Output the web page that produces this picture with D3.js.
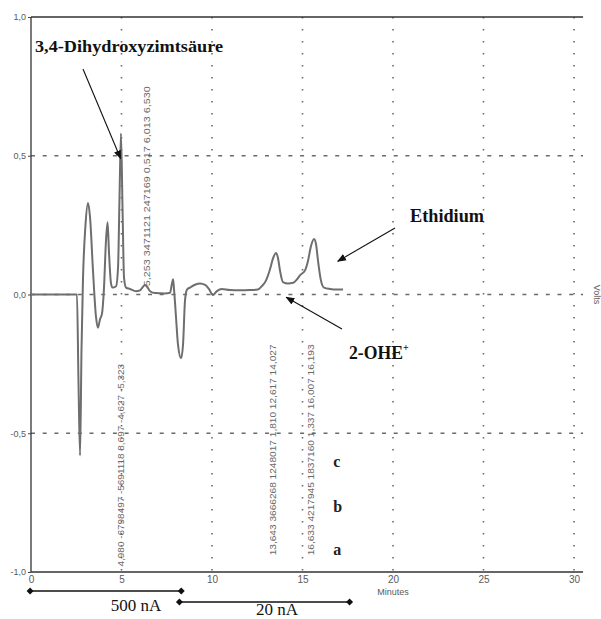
<!DOCTYPE html>
<html>
<head>
<meta charset="utf-8">
<script src="https://cdn.jsdelivr.net/npm/d3@7"></script>
<style>
  html, body { margin: 0; padding: 0; background: #fff; }
  svg { display: block; }
</style>
</head>
<body>
<svg id="chart" width="601" height="619"></svg>
<script>
// Chromatogram trace: retention time (min) and detector signal (V)
const traceTime = [0, 2.54, 2.62, 2.71, 2.79, 2.87, 3.01, 3.15, 3.26, 3.43, 3.59, 3.70, 3.81, 3.92, 4.03, 4.14, 4.23,
  4.31, 4.42, 4.50, 4.70, 4.81, 4.89, 4.97, 5.06, 5.14, 5.25, 5.47, 5.80, 6.02, 6.19, 6.30, 6.41, 6.58, 6.85, 7.40,
  7.68, 7.79, 7.85, 7.90, 8.01, 8.12, 8.29, 8.40, 8.51, 8.62, 8.79, 9.06, 9.34, 9.62, 9.83, 10.05, 10.27, 10.54,
  10.98, 11.54, 12.09, 12.53, 12.75, 12.98, 13.20, 13.37, 13.54, 13.65, 13.76, 13.92, 14.20, 14.48, 14.70, 14.87,
  15.14, 15.30, 15.47, 15.64, 15.75, 15.86, 16.02, 16.19, 16.52, 16.91, 17.24];
const traceSignal = [0, 0, -0.30, -0.58, -0.20, 0.05, 0.25, 0.33, 0.28, 0.08, -0.08, -0.12, -0.09, -0.07, 0.02, 0.19, 0.26,
  0.15, 0.04, 0.025, 0.03, 0.10, 0.35, 0.58, 0.30, 0.06, 0.025, 0.02, 0.012, 0.015, 0.028, 0.034, 0.028, 0.012, 0.005, 0.004,
  0.006, 0.04, 0.055, 0.02, -0.08, -0.18, -0.23, -0.18, -0.02, 0.018, 0.025, 0.035, 0.04, 0.035, 0.02, -0.002, 0.012, 0.02,
  0.016, 0.015, 0.016, 0.018, 0.03, 0.05, 0.09, 0.13, 0.15, 0.13, 0.085, 0.045, 0.04, 0.042, 0.055, 0.07,
  0.087, 0.12, 0.175, 0.20, 0.18, 0.12, 0.05, 0.025, 0.02, 0.018, 0.018];

const xTicks = [0, 5, 10, 15, 20, 25, 30];
const yTicks = [1, 0.5, 0, -0.5, -1];
const yTickLabels = ["1,0", "0,5", "0,0", "-0,5", "-1,0"];
const xGrid = [5, 10, 15, 20, 25, 30];
const yGrid = [0.5, 0, -0.5];

// Integration report columns printed along the trace
const reportLabels = [
  "4,980 -6798497 -5691118 8,697 -4,627 -5,323",
  "5,253 3471121 247169 0,517 6,013 6,530",
  "13,643 3666268 1248017 1,810 12,617 14,027",
  "16,633 4217945 1837160 1,337 16,007 16,193"
];
const reportTime = [4.95, 6.4, 13.35, 15.45];
const reportTop = [-0.25, 0.75, -0.18, -0.18];
const reportBottom = [-0.98, 0.03, -0.94, -0.94];

const traceLetters = ["c", "b", "a"];
const traceLetterLevels = [-0.62, -0.785, -0.94];

const svg = d3.select("#chart");
const x = d3.scaleLinear().domain([0, 30]).range([31, 574]);
const y = d3.scaleLinear().domain([-1, 1]).range([572, 17]);
const xEnd = 30.5;

const grey = "#5a5a5a";
const sans = "'Liberation Sans', Arial, sans-serif";
const serif = "'Liberation Serif', 'Times New Roman', serif";

// grid
svg.append("g").selectAll("line").data(xGrid).join("line")
  .attr("x1", d => x(d)).attr("x2", d => x(d))
  .attr("y1", y(1)).attr("y2", y(-1))
  .attr("stroke", "#6a6a6a").attr("stroke-width", 1.6)
  .attr("stroke-dasharray", "1.6,10.4");
svg.append("g").selectAll("line").data(yGrid).join("line")
  .attr("x1", x(0)).attr("x2", x(xEnd))
  .attr("y1", d => y(d)).attr("y2", d => y(d))
  .attr("stroke", "#6a6a6a").attr("stroke-width", 1.6)
  .attr("stroke-dasharray", "4,7.7");

// frame lines
const frame = svg.append("g").attr("stroke", "#333").attr("stroke-width", 1.3);
frame.append("line").attr("x1", x(0)).attr("x2", x(0)).attr("y1", y(1)).attr("y2", y(-1));
frame.append("line").attr("x1", x(0)).attr("x2", x(xEnd)).attr("y1", y(1)).attr("y2", y(1));
frame.append("line").attr("x1", x(0)).attr("x2", x(xEnd)).attr("y1", y(-1)).attr("y2", y(-1));

// axes
const yAxis = svg.append("g").attr("transform", `translate(${x(0)},0)`)
  .call(d3.axisLeft(y).tickValues(yTicks).tickSize(3).tickPadding(2)
    .tickFormat((d, i) => yTickLabels[i]));
yAxis.select(".domain").remove();
yAxis.selectAll("line").attr("stroke", "#444");
yAxis.selectAll("text").attr("fill", grey).style("font-family", sans).style("font-size", "9px");

const xAxis = svg.append("g").attr("transform", `translate(0,${y(-1)})`)
  .call(d3.axisBottom(x).tickValues(xTicks).tickSize(0).tickPadding(4));
xAxis.select(".domain").remove();
xAxis.selectAll("text").attr("fill", grey).style("font-family", sans).style("font-size", "10px");

svg.append("text").attr("x", x(20)).attr("y", 595).attr("text-anchor", "middle")
  .attr("fill", grey).style("font-family", sans).style("font-size", "9px")
  .text("Minutes");

svg.append("text").attr("transform", `translate(594,${y(0)}) rotate(90)`)
  .attr("text-anchor", "middle").attr("fill", grey)
  .style("font-family", sans).style("font-size", "9px")
  .text("Volts");

// trace
const traceData = traceTime.map((t, i) => [t, traceSignal[i]]);
svg.append("path").datum(traceData)
  .attr("fill", "none").attr("stroke", "#6e6e6e").attr("stroke-width", 2)
  .attr("stroke-linejoin", "round")
  .attr("d", d3.line().x(d => x(d[0])).y(d => y(d[1])).curve(d3.curveMonotoneX));

// integration report text (vertical)
svg.append("g").selectAll("text").data(reportLabels).join("text")
  .attr("transform", (d, i) => `translate(${x(reportTime[i])},${y(reportBottom[i])}) rotate(-90)`)
  .attr("dominant-baseline", "central")
  .attr("textLength", (d, i) => y(reportBottom[i]) - y(reportTop[i]))
  .attr("lengthAdjust", "spacingAndGlyphs")
  .attr("fill", "#6a6a6a")
  .style("font-family", "'Liberation Sans Narrow', 'Liberation Sans', Arial, sans-serif")
  .style("font-size", "9px")
  .text(d => d);

// trace letters
svg.append("g").selectAll("text").data(traceLetters).join("text")
  .attr("x", x(16.7)).attr("y", (d, i) => y(traceLetterLevels[i]))
  .attr("fill", "#222").style("font-family", serif)
  .style("font-size", "16px").style("font-weight", "bold")
  .text(d => d);

// arrow markers
const defs = svg.append("defs");
defs.append("marker").attr("id", "head").attr("viewBox", "0 0 10 10")
  .attr("refX", 9).attr("refY", 5).attr("markerWidth", 9).attr("markerHeight", 9)
  .attr("markerUnits", "userSpaceOnUse").attr("orient", "auto")
  .append("path").attr("d", "M0,1 L10,5 L0,9 Z").attr("fill", "#111");

function label(txt, x0, yb, size, len) {
  const t = svg.append("text").attr("x", x0).attr("y", yb).attr("fill", "#111")
    .style("font-family", serif).style("font-size", size + "px").style("font-weight", "bold");
  if (len) t.attr("textLength", len).attr("lengthAdjust", "spacingAndGlyphs");
  return t.text(txt);
}
function arrow(x1, y1, x2, y2) {
  svg.append("line").attr("x1", x1).attr("y1", y1).attr("x2", x2).attr("y2", y2)
    .attr("stroke", "#111").attr("stroke-width", 1.1).attr("marker-end", "url(#head)");
}

label("3,4-Dihydroxyzimtsäure", 35, 52, 16, 188);
arrow(83, 69, x(4.95), y(0.49));

label("Ethidium", 410, 222, 18, 74);
arrow(395, 228, x(16.95), y(0.12));

label("2-OHE", 349, 359, 18, 54);
svg.append("text").attr("x", 403).attr("y", 351).attr("fill", "#111")
  .style("font-family", serif).style("font-size", "10px").style("font-weight", "bold").text("+");
arrow(342, 329, x(14.1), y(-0.01));

// detector range brackets
function bracket(t0, t1, yy, txt, tx, ty) {
  svg.append("line").attr("x1", x(t0)).attr("x2", x(t1)).attr("y1", yy).attr("y2", yy)
    .attr("stroke", "#111").attr("stroke-width", 1.3);
  [t0, t1].forEach(t => svg.append("path")
    .attr("d", `M${x(t) - 3.5},${yy} L${x(t)},${yy - 3.5} L${x(t) + 3.5},${yy} L${x(t)},${yy + 3.5} Z`)
    .attr("fill", "#111"));
  svg.append("text").attr("x", tx).attr("y", ty).attr("text-anchor", "middle").attr("fill", "#111")
    .style("font-family", serif).style("font-size", "17px").text(txt);
}
bracket(-0.05, 8.3, 591, "500 nA", x(5.8), 611);
bracket(8.2, 17.6, 602, "20 nA", 277, 615);
</script>
</body>
</html>
